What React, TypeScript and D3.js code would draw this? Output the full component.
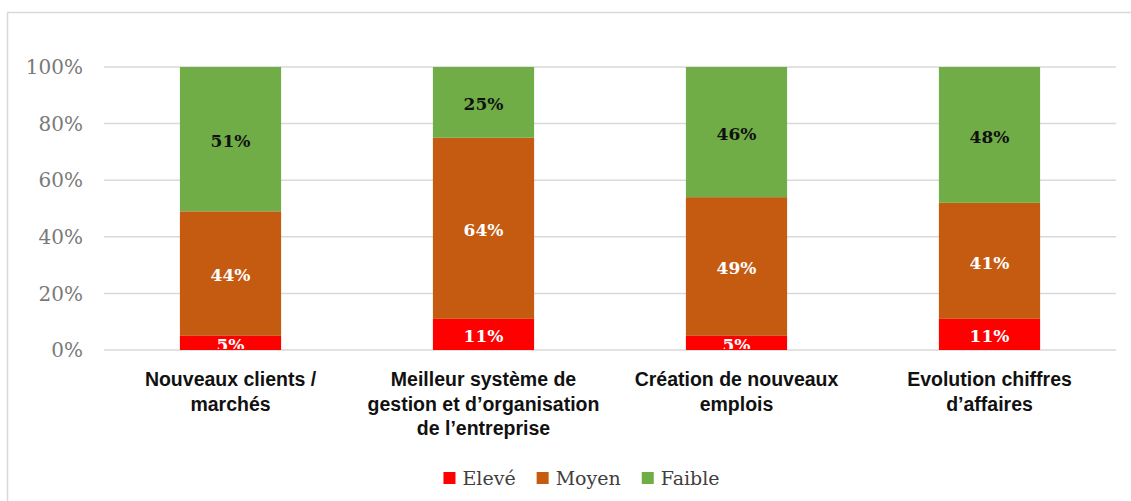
import React, { useEffect, useRef } from "react";
import * as d3 from "d3";

// categories (one array per wrapped label)
const categories = [
  ["Nouveaux clients /", "marchés"],
  ["Meilleur système de", "gestion et d’organisation", "de l’entreprise"],
  ["Création de nouveaux", "emplois"],
  ["Evolution chiffres", "d’affaires"],
];
const seriesNames = ["Elevé", "Moyen", "Faible"];
const eleve = [5, 11, 5, 11];
const moyen = [44, 64, 49, 41];
const faible = [51, 25, 46, 48];
const yTicks = [0, 20, 40, 60, 80, 100];

const colors = ["#FF0000", "#C55A11", "#70AD47"];
const labelColors = ["#FFFFFF", "#FFFFFF", "#111111"];

const W = 1131;
const H = 501;
const serif = "'DejaVu Serif', 'Liberation Serif', serif";
const sans = "'Liberation Sans', Arial, sans-serif";

export default function App() {
  const svgRef = useRef<SVGSVGElement>(null);

  useEffect(() => {
    const svg = d3.select(svgRef.current);
    svg.selectAll("*").remove();

    const rows = categories.map((c, i) => ({
      key: String(i),
      Elevé: eleve[i],
      Moyen: moyen[i],
      Faible: faible[i],
    }));
    const stacked = d3.stack<any>().keys(seriesNames)(rows);

    const x = d3
      .scaleBand()
      .domain(rows.map((d) => d.key))
      .range([104, 1116])
      .paddingInner(0.6)
      .paddingOuter(0.3);
    const y = d3.scaleLinear().domain([0, 100]).range([350, 67]);

    // frame
    svg
      .append("rect")
      .attr("x", 7.5)
      .attr("y", 12.5)
      .attr("width", W)
      .attr("height", H)
      .attr("fill", "#fff")
      .attr("stroke", "#D9D9D9")
      .attr("stroke-width", 1.5);

    // grid
    svg
      .append("g")
      .selectAll("line")
      .data(yTicks)
      .enter()
      .append("line")
      .attr("x1", 104)
      .attr("x2", 1116)
      .attr("y1", (d) => y(d))
      .attr("y2", (d) => y(d))
      .attr("stroke", "#D9D9D9")
      .attr("stroke-width", 1.5);

    // y tick labels
    svg
      .append("g")
      .selectAll("text")
      .data(yTicks)
      .enter()
      .append("text")
      .attr("x", 83)
      .attr("y", (d) => y(d))
      .attr("dy", "0.36em")
      .attr("text-anchor", "end")
      .style("font-family", serif)
      .style("font-size", "20px")
      .attr("fill", "#7A7A7A")
      .text((d) => d + "%");

    // bars
    const layers = svg
      .append("g")
      .selectAll("g")
      .data(stacked)
      .enter()
      .append("g")
      .attr("fill", (d, i) => colors[i]);

    layers
      .selectAll("rect")
      .data((d) => d)
      .enter()
      .append("rect")
      .attr("x", (d: any) => x(d.data.key)!)
      .attr("width", x.bandwidth())
      .attr("y", (d) => y(d[1]))
      .attr("height", (d) => y(d[0]) - y(d[1]));

    // labels, clipped to the plot
    svg
      .append("clipPath")
      .attr("id", "plotclip")
      .append("rect")
      .attr("x", 104)
      .attr("y", 60)
      .attr("width", 1012)
      .attr("height", 289);

    const lbl = svg.append("g").attr("clip-path", "url(#plotclip)");
    stacked.forEach((layer, si) => {
      lbl
        .append("g")
        .selectAll("text")
        .data(layer)
        .enter()
        .append("text")
        .attr("x", (d: any) => x(d.data.key)! + x.bandwidth() / 2)
        .attr("y", (d) => (y(d[0]) + y(d[1])) / 2)
        .attr("dy", "0.45em")
        .attr("text-anchor", "middle")
        .style("font-family", serif)
        .style("font-size", "17px")
        .style("font-weight", "bold")
        .attr("fill", labelColors[si])
        .text((d) => d[1] - d[0] + "%");
    });

    // category labels
    const cat = svg
      .append("g")
      .selectAll("text")
      .data(categories)
      .enter()
      .append("text")
      .attr("x", (d, i) => x(String(i))! + x.bandwidth() / 2)
      .attr("y", 386)
      .attr("text-anchor", "middle")
      .style("font-family", sans)
      .style("font-size", "19.5px")
      .style("font-weight", "bold")
      .attr("fill", "#111");
    cat
      .selectAll("tspan")
      .data((d) => d)
      .enter()
      .append("tspan")
      .attr("x", function () {
        return (this as any).parentNode.getAttribute("x");
      })
      .attr("dy", (d, i) => (i === 0 ? 0 : 24.5))
      .text((d) => d);

    // legend
    const legend = svg.append("g");
    let lx = 0;
    seriesNames.forEach((name, i) => {
      const g = legend.append("g").attr("transform", `translate(${lx},0)`);
      g.append("rect")
        .attr("x", 0)
        .attr("y", -13)
        .attr("width", 12)
        .attr("height", 12)
        .attr("fill", colors[i]);
      const t = g
        .append("text")
        .attr("x", 19)
        .attr("y", 0)
        .style("font-family", serif)
        .style("font-size", "19px")
        .attr("fill", "#404040")
        .text(name);
      const w = (t.node() as SVGTextElement).getComputedTextLength();
      lx += 19 + w + 21;
    });
    const total = lx - 21;
    legend.attr("transform", `translate(${(W - total) / 2 + 16},485)`);
  }, []);

  return (
    <svg
      ref={svgRef}
      width={W}
      height={H}
      style={{ position: "absolute", left: 0, top: 0, background: "#fff" }}
    />
  );
}
